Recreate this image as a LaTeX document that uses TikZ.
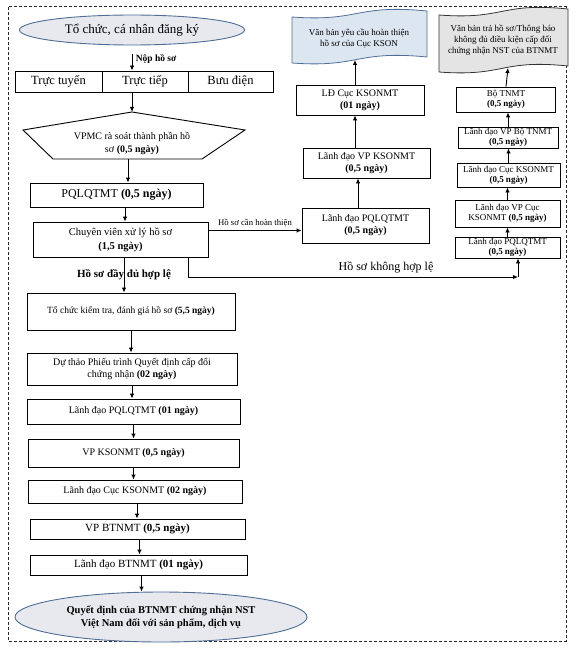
\documentclass[tikz,border=0pt]{standalone}
\usepackage{fontspec}
\setmainfont{Liberation Serif}
\usetikzlibrary{shapes.geometric,arrows.meta}
\definecolor{ovalfill}{HTML}{E7E9EE}
\definecolor{ovalline}{HTML}{4F6E96}
\definecolor{docblue}{HTML}{DCE6F1}
\definecolor{docgray}{HTML}{E4E4E4}
\newcommand{\fs}[1]{\fontsize{#1}{#1}\selectfont}
\tikzset{
  box/.style={draw, line width=0.9pt, align=center, inner sep=1pt, font=\fontsize{10}{12}\selectfont},
  oval/.style={ellipse, draw=ovalline, fill=ovalfill, line width=0.9pt, align=center, inner sep=0pt},
  arr/.style={-{Latex[length=5pt,width=4.5pt]}, line width=0.9pt},
  small/.style={box, inner sep=0.5pt, font=\fontsize{9}{10}\selectfont},
}
\begin{document}
\begin{tikzpicture}[x=1pt,y=-1pt]
  \useasboundingbox (0,0) rectangle (576,658);
  % dashed frame
  \draw[densely dashed, line width=1pt, black!85] (8,7) rectangle (566,641);
  % documents
  \draw[draw=ovalline, fill=docblue, line width=0.8pt]
    (292,17) .. controls (360,22) and (355,4) .. (427,11)
    -- (427,57) .. controls (355,50) and (360,68) .. (292,63) -- cycle;
  \draw[draw=black!80, fill=docgray, line width=0.8pt]
    (439,15) .. controls (505,20) and (500,2) .. (568,9)
    -- (568,66) .. controls (500,59) and (505,77) .. (439,72) -- cycle;
  \node[align=center, font=\fontsize{9}{11}\selectfont] (doc1) at (359,38)
    {Văn bản yêu cầu hoàn thiện\\hồ sơ của Cục KSON};
  \node[align=center, font=\fontsize{9}{11}\selectfont] (doc2) at (503,40)
    {Văn bản trả hồ sơ/Thông báo\\không đủ điều kiện cấp đổi\\chứng nhận NST của BTNMT};
  \coordinate (doc1b) at (355,60);
  \coordinate (doc2b) at (508,68);
  % left column
  \node[oval, minimum width=225, minimum height=30, font=\fs{13}] (start) at (132,30)
    {Tổ chức, cá nhân đăng ký};
  \node[box, minimum width=87, minimum height=21, font=\fs{12.5}] (c1) at (58.5,81.5) {Trực tuyến};
  \node[box, minimum width=86, minimum height=21, font=\fs{12.5}] (c2) at (145,81.5) {Trực tiếp};
  \node[box, minimum width=85, minimum height=21, font=\fs{12.5}] (c3) at (230.5,81.5) {Bưu điện};
  \draw[line width=0.9pt] (132,112) -- (245,130) -- (202,159) -- (53,159) -- (23,130) -- cycle;
  \coordinate (ptop) at (132,112);
  \coordinate (pbot) at (128,159);
  \node[align=center, font=\fontsize{10}{13}\selectfont] (vpmc) at (132,143)
    {VPMC rà soát thành phần hồ\\sơ \textbf{(0,5 ngày)}};
  \node[box, minimum width=173, minimum height=24, font=\fs{12}] (pq) at (116.5,195)
    {PQLQTMT \textbf{(0,5 ngày)}};
  \node[box, minimum width=175, minimum height=35, font=\fontsize{10.5}{14}\selectfont] (cv) at (120.5,239.5)
    {Chuyên viên xử lý hồ sơ\\\textbf{(1,5 ngày)}};
  \node[box, minimum width=208, minimum height=37, font=\fs{9.5}] (kt) at (131,311.5)
    {Tổ chức kiểm tra, đánh giá hồ sơ \textbf{(5,5 ngày)}};
  \node[box, minimum width=210, minimum height=32] (dt) at (132,369)
    {Dự thảo Phiếu trình Quyết định cấp đổi\\chứng nhận \textbf{(02 ngày)}};
  \node[box, minimum width=213, minimum height=25] (ld1) at (133.5,411.5)
    {Lãnh đạo PQLQTMT \textbf{(01 ngày)}};
  \node[box, minimum width=211, minimum height=28] (vpk) at (133.5,453)
    {VP KSONMT \textbf{(0,5 ngày)}};
  \node[box, minimum width=214, minimum height=23] (ldc) at (135,491.5)
    {Lãnh đạo Cục KSONMT \textbf{(02 ngày)}};
  \node[box, minimum width=215, minimum height=20, font=\fs{11}] (vpb) at (137.5,529)
    {VP BTNMT \textbf{(0,5 ngày)}};
  \node[box, minimum width=217, minimum height=20, font=\fs{11}] (ldb) at (138.5,565)
    {Lãnh đạo BTNMT \textbf{(01 ngày)}};
  \node[oval, minimum width=292, minimum height=50, font=\bfseries\fontsize{10.5}{13}\selectfont] (end) at (161,617)
    {Quyết định của BTNMT chứng nhận NST\\Việt Nam đối với sản phẩm, dịch vụ};
  % middle column
  \node[box, minimum width=127, minimum height=35] (ldq) at (365.5,225.5)
    {Lãnh đạo PQLQTMT\\\textbf{(0,5 ngày)}};
  \node[box, minimum width=127, minimum height=30] (ldvk) at (366.5,163)
    {Lãnh đạo VP KSONMT\\\textbf{(0,5 ngày)}};
  \node[box, minimum width=128, minimum height=30] (ldck) at (360,100)
    {LĐ Cục KSONMT\\\textbf{(01 ngày)}};
  % right column
  \node[small, minimum width=99, minimum height=25] (bt) at (506,99.5)
    {Bộ TNMT\\\textbf{(0,5 ngày)}};
  \node[small, minimum width=100, minimum height=21] (ldvb) at (508,137.5)
    {Lãnh đạo VP Bộ TNMT\\\textbf{(0,5 ngày)}};
  \node[small, minimum width=103, minimum height=24] (ldcr) at (508.5,175)
    {Lãnh đạo Cục KSONMT\\\textbf{(0,5 ngày)}};
  \node[small, minimum width=105, minimum height=27] (ldvc) at (507.5,213.5)
    {Lãnh đạo VP Cục\\KSONMT \textbf{(0,5 ngày)}};
  \node[small, minimum width=105, minimum height=21] (ldqr) at (507.5,247.5)
    {Lãnh đạo PQLQTMT\\\textbf{(0,5 ngày)}};
  \coordinate (bad) at (518,277);
  \begin{scope}[arr]
    \draw ([yshift=-9pt]start.south) -- (start.south |- c2.north)
      node[pos=0.3, right, font=\bfseries\fs{9.5}] {Nộp hồ sơ};
    \draw (start.south |- c2.south) -- (ptop);
    \draw (pbot) -- (pbot |- pq.north);
    \draw ([xshift=8.5pt]pq.south) -- ([xshift=8.5pt]pq.south |- cv.north);
    \draw ([xshift=3.5pt]cv.south) -- ([xshift=3.5pt]cv.south |- kt.north)
      node[midway, font=\bfseries\fs{11}] {Hồ sơ đầy đủ hợp lệ};
    \draw (kt.south) -- (kt.south |- dt.north);
    \draw (dt.south) -- (dt.south |- ld1.north);
    \draw (ld1.south) -- (ld1.south |- vpk.north);
    \draw (vpk.south) -- (vpk.south |- ldc.north);
    \draw ([xshift=2pt]ldc.south) -- ([xshift=2pt]ldc.south |- vpb.north);
    \draw ([xshift=2pt]vpb.south) -- ([xshift=2pt]vpb.south |- ldb.north);
    \draw ([xshift=3pt]ldb.south) -- ([xshift=3pt]ldb.south |- end.north);
    \draw ([yshift=9pt]cv.east) -- ([yshift=9pt]cv.east -| ldq.west)
      node[midway, above, font=\fs{8.7}] {Hồ sơ cần hoàn thiện};
    \draw ([xshift=-7.5pt]ldq.north) -- ([xshift=-7.5pt]ldq.north |- ldvk.south);
    \draw ([xshift=-5pt]ldck.south |- ldvk.north) -- ([xshift=-5pt]ldck.south);
    \draw ([xshift=-5pt]ldck.north) -- (doc1b);
    \draw ([xshift=67.5pt]cv.south) |- (bad)
      node[pos=0.8, above, font=\fs{12}] {Hồ sơ không hợp lệ};
    \draw (bad) -- (bad |- ldqr.south);
    \draw (ldqr.north) -- (ldqr.north |- ldvc.south);
    \draw (ldvc.north) -- (ldvc.north |- ldcr.south);
    \draw (ldcr.north) -- (ldcr.north |- ldvb.south);
    \draw (ldvb.north) -- (ldvb.north |- bt.south);
    \draw (bt.north) -- (doc2b);
  \end{scope}
\end{tikzpicture}
\end{document}
